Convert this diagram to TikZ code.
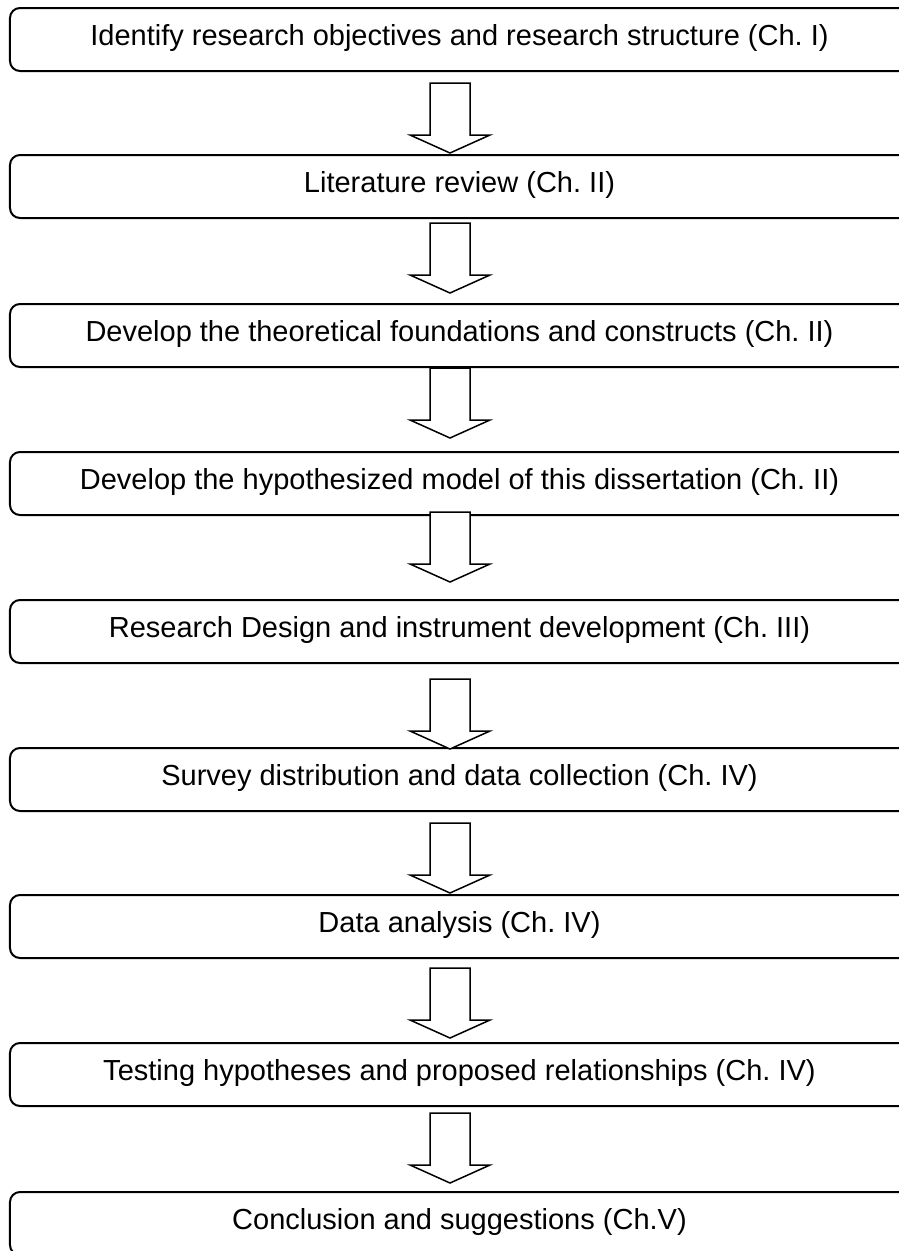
\documentclass[tikz,border=0pt]{standalone}
\usepackage{fontspec}
\setmainfont{Liberation Sans}
\frenchspacing
\begin{document}
\begin{tikzpicture}[x=1bp, y=-1bp,
  stepbox/.style={draw=black, line width=2bp, rounded corners=10bp,
    minimum width=899bp, minimum height=63bp, inner sep=0pt,
    text height=21bp, text depth=10bp,
    font=\fontsize{29bp}{34bp}\selectfont},
  flowarrow/.pic={
    \draw[line width=1.5bp, fill=white, line join=miter]
      (-20,0) -- (20,0) -- (20,52) -- (40,52) -- (0,70)
      -- (-40,52) -- (-20,52) -- cycle;
  }]
\useasboundingbox (0,0) rectangle (899,1251);
\clip (0,0) rectangle (899,1251);
\fill[white] (0,0) rectangle (899,1251);

% process steps (top edges at 8, 155, 304, 452, 600, 748, 895, 1043, 1192)
\node[stepbox] (s1) at (459.5, 39.5)  {Identify research objectives and research structure (Ch. I)};
\node[stepbox] (s2) at (459.5, 186.5) {Literature review (Ch. II)};
\node[stepbox] (s3) at (459.5, 335.5) {Develop the theoretical foundations and constructs (Ch. II)};
\node[stepbox] (s4) at (459.5, 483.5) {Develop the hypothesized model of this dissertation (Ch. II)};
\node[stepbox] (s5) at (459.5, 631.5) {Research Design and instrument development (Ch. III)};
\node[stepbox] (s6) at (459.5, 779.5) {Survey distribution and data collection (Ch. IV)};
\node[stepbox] (s7) at (459.5, 926.5) {Data analysis (Ch. IV)};
\node[stepbox] (s8) at (459.5, 1074.5) {Testing hypotheses and proposed relationships (Ch. IV)};
\node[stepbox] (s9) at (459.5, 1223.5) {Conclusion and suggestions (Ch.V)};

% hollow block arrows between consecutive steps
\pic (a1) at (450, 83)   {flowarrow};
\pic (a2) at (450, 223)  {flowarrow};
\pic (a3) at (450, 368)  {flowarrow};
\pic (a4) at (450, 512)  {flowarrow};
\pic (a5) at (450, 679)  {flowarrow};
\pic (a6) at (450, 823)  {flowarrow};
\pic (a7) at (450, 968)  {flowarrow};
\pic (a8) at (450, 1113) {flowarrow};
\end{tikzpicture}
\end{document}
